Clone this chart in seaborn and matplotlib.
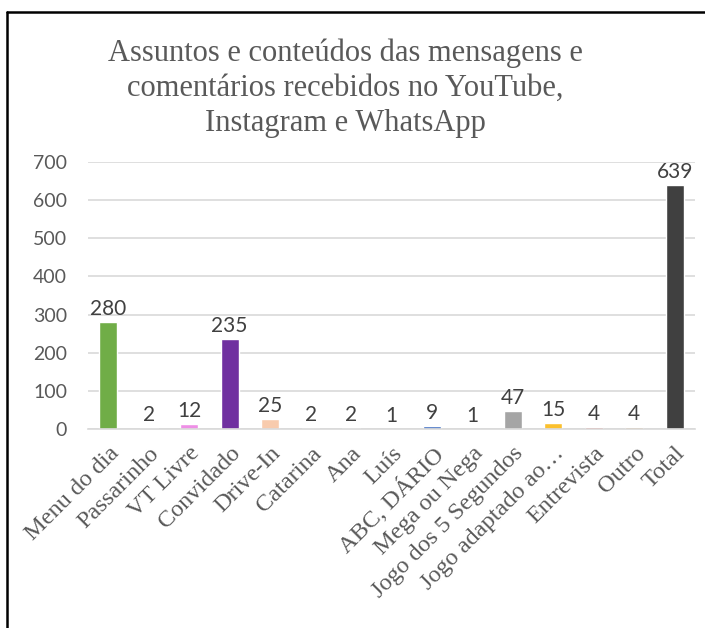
import matplotlib
matplotlib.use("Agg")
import matplotlib.pyplot as plt
from matplotlib.lines import Line2D
import seaborn as sns
import pandas as pd

categories = ["Menu do dia", "Passarinho", "VT Livre", "Convidado", "Drive-In",
              "Catarina", "Ana", "Luís", "ABC, DÁRIO", "Mega ou Nega",
              "Jogo dos 5 Segundos", "Jogo adaptado ao…", "Entrevista", "Outro", "Total"]
values = [280, 2, 12, 235, 25, 2, 2, 1, 9, 1, 47, 15, 4, 4, 639]
colors = ["#70AD47", "#E2EFDA", "#EE8FE6", "#7030A0", "#F8CBAD",
          "#E1DCEE", "#E1DCEE", "#FFF2CC", "#4472C4", "#F4C7B8",
          "#A5A5A5", "#FBC02D", "#E03C31", "#D39250", "#404040"]
yticks = [0, 100, 200, 300, 400, 500, 600, 700]
title = "Assuntos e conteúdos das mensagens e\ncomentários recebidos no YouTube,\nInstagram e WhatsApp"

df = pd.DataFrame({"cat": categories, "val": values})

sns.set_theme(style="white")
plt.rcParams["font.family"] = ["Lato", "DejaVu Sans"]

fig = plt.figure(figsize=(7.05, 6.28), dpi=100)
ax = fig.add_axes([88 / 705, 1 - 429 / 628, (695 - 88) / 705, (429 - 162) / 628])

sns.barplot(data=df, x="cat", y="val", hue="cat", palette=colors, legend=False,
            width=0.44, ax=ax, saturation=1)

ax.set_ylim(0, 700)
ax.set_xlim(-0.5, len(categories) - 0.5)
ax.set_yticks(yticks)
ax.set_yticklabels([str(t) for t in yticks], fontsize=14, color="#595959")
ax.yaxis.grid(True, color="#D9D9D9", linewidth=1.2)
ax.set_axisbelow(True)
for s in ["top", "right", "left"]:
    ax.spines[s].set_visible(False)
ax.spines["bottom"].set_color("#D9D9D9")
ax.spines["bottom"].set_linewidth(1.2)
ax.tick_params(axis="y", length=0, pad=15)
ax.set_xlabel("")
ax.set_ylabel("")

ax.set_xticks(range(len(categories)))
ax.set_xticklabels(categories, rotation=45, ha="right", va="top", rotation_mode="anchor",
                   fontsize=17.5, color="#595959", family="Liberation Serif")
ax.tick_params(axis="x", length=0, pad=10)

for i, v in enumerate(values):
    ax.text(i, v + 8, str(v), ha="center", va="bottom", fontsize=15, color="#404040")

fig.text(345 / 705, 1 - 88 / 628, title, ha="center", va="center",
         fontsize=22, color="#595959", family="Liberation Serif", linespacing=1.28)

# chart frame
fig.add_artist(Line2D([7 / 705, 1], [1 - 12 / 628, 1 - 12 / 628], transform=fig.transFigure,
                      color="black", linewidth=1.8))
fig.add_artist(Line2D([7 / 705, 7 / 705], [0, 1 - 12 / 628], transform=fig.transFigure,
                      color="black", linewidth=1.8))

fig.savefig("out.png", dpi=100, facecolor="white")
